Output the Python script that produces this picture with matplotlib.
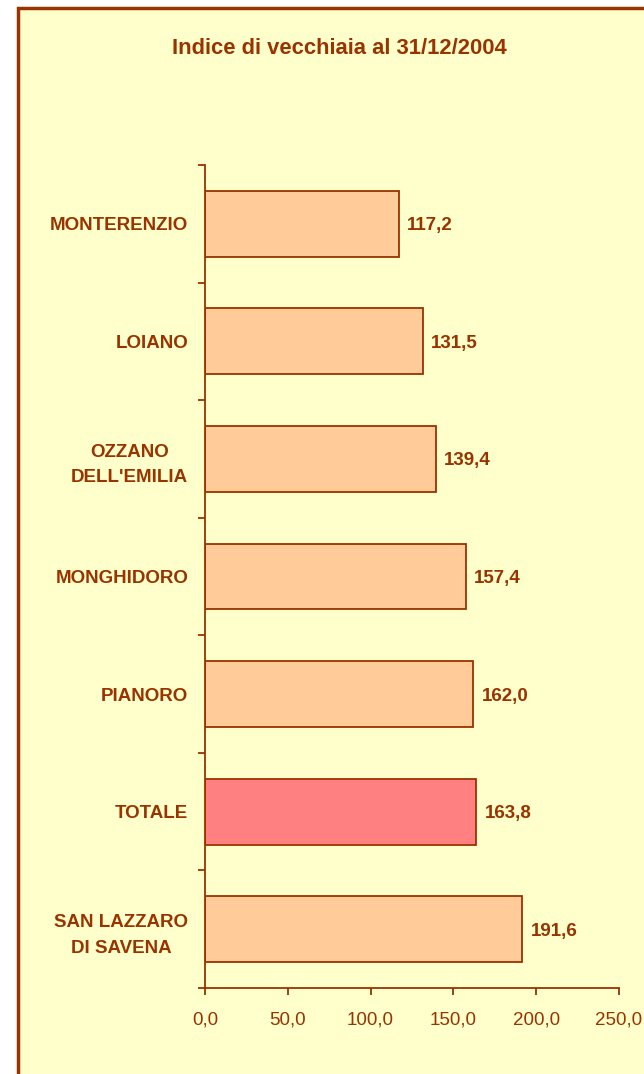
import matplotlib.pyplot as plt
from matplotlib.patches import Rectangle
import numpy as np

plt.rcParams['font.family'] = ['Liberation Sans', 'DejaVu Sans']

comuni = ["SAN LAZZARO\nDI SAVENA", "TOTALE", "PIANORO", "MONGHIDORO",
          "OZZANO\nDELL'EMILIA", "LOIANO", "MONTERENZIO"]
indice = [191.6, 163.8, 162.0, 157.4, 139.4, 131.5, 117.2]
xticks = [0, 50, 100, 150, 200, 250]

brown = '#993300'
fig = plt.figure(figsize=(6.44, 10.74), dpi=100)
fig.patch.set_facecolor('white')
# chart area with border, cut off at right and bottom like the original
fig.patches.append(Rectangle((18/644, -0.1), 1.2, 1 - 8/1074 + 0.1, transform=fig.transFigure,
                             facecolor='#FFFFCC', edgecolor=brown, linewidth=2.5, zorder=-5))

ax = fig.add_axes([205/644, 1 - 988/1074, 414/644, 823/1074])
ax.set_facecolor('none')

y = np.arange(len(comuni))
colors = ['#FF8080' if c == 'TOTALE' else '#FFCC99' for c in comuni]
bars = ax.barh(y, indice, height=0.56, color=colors, edgecolor=brown, linewidth=1.3)

for yi, v in zip(y, indice):
    ax.text(v + 5, yi, f"{v:.1f}".replace('.', ','), va='center_baseline', ha='left',
            fontsize=13.5, fontweight='bold', color=brown)

ax.set_xlim(0, 250)
ax.set_ylim(-0.5, len(comuni) - 0.5)
ax.set_xticks(xticks)
ax.set_xticklabels([f"{t:.1f}".replace('.', ',') for t in xticks], fontsize=13.5, color=brown)
ax.set_yticks(y)
ax.set_yticklabels(comuni, fontsize=13.5, fontweight='bold', color=brown,
                   multialignment='center', linespacing=1.65)
ax.set_yticks(np.arange(len(comuni) + 1) - 0.5, minor=True)
ax.tick_params(axis='y', which='major', length=0, pad=12)
ax.tick_params(axis='y', which='minor', length=5, width=1.3, color=brown, direction='out')
ax.tick_params(axis='x', length=5, width=1.3, color=brown, direction='out', pad=12)

for s in ['top', 'right']:
    ax.spines[s].set_visible(False)
for s in ['left', 'bottom']:
    ax.spines[s].set_color(brown)
    ax.spines[s].set_linewidth(1.3)

fig.text(339.5/644, 1 - 48/1074, "Indice di vecchiaia al 31/12/2004", ha='center', va='center',
         fontsize=15.8, fontweight='bold', color=brown)

fig.savefig('out.png', dpi=100)
